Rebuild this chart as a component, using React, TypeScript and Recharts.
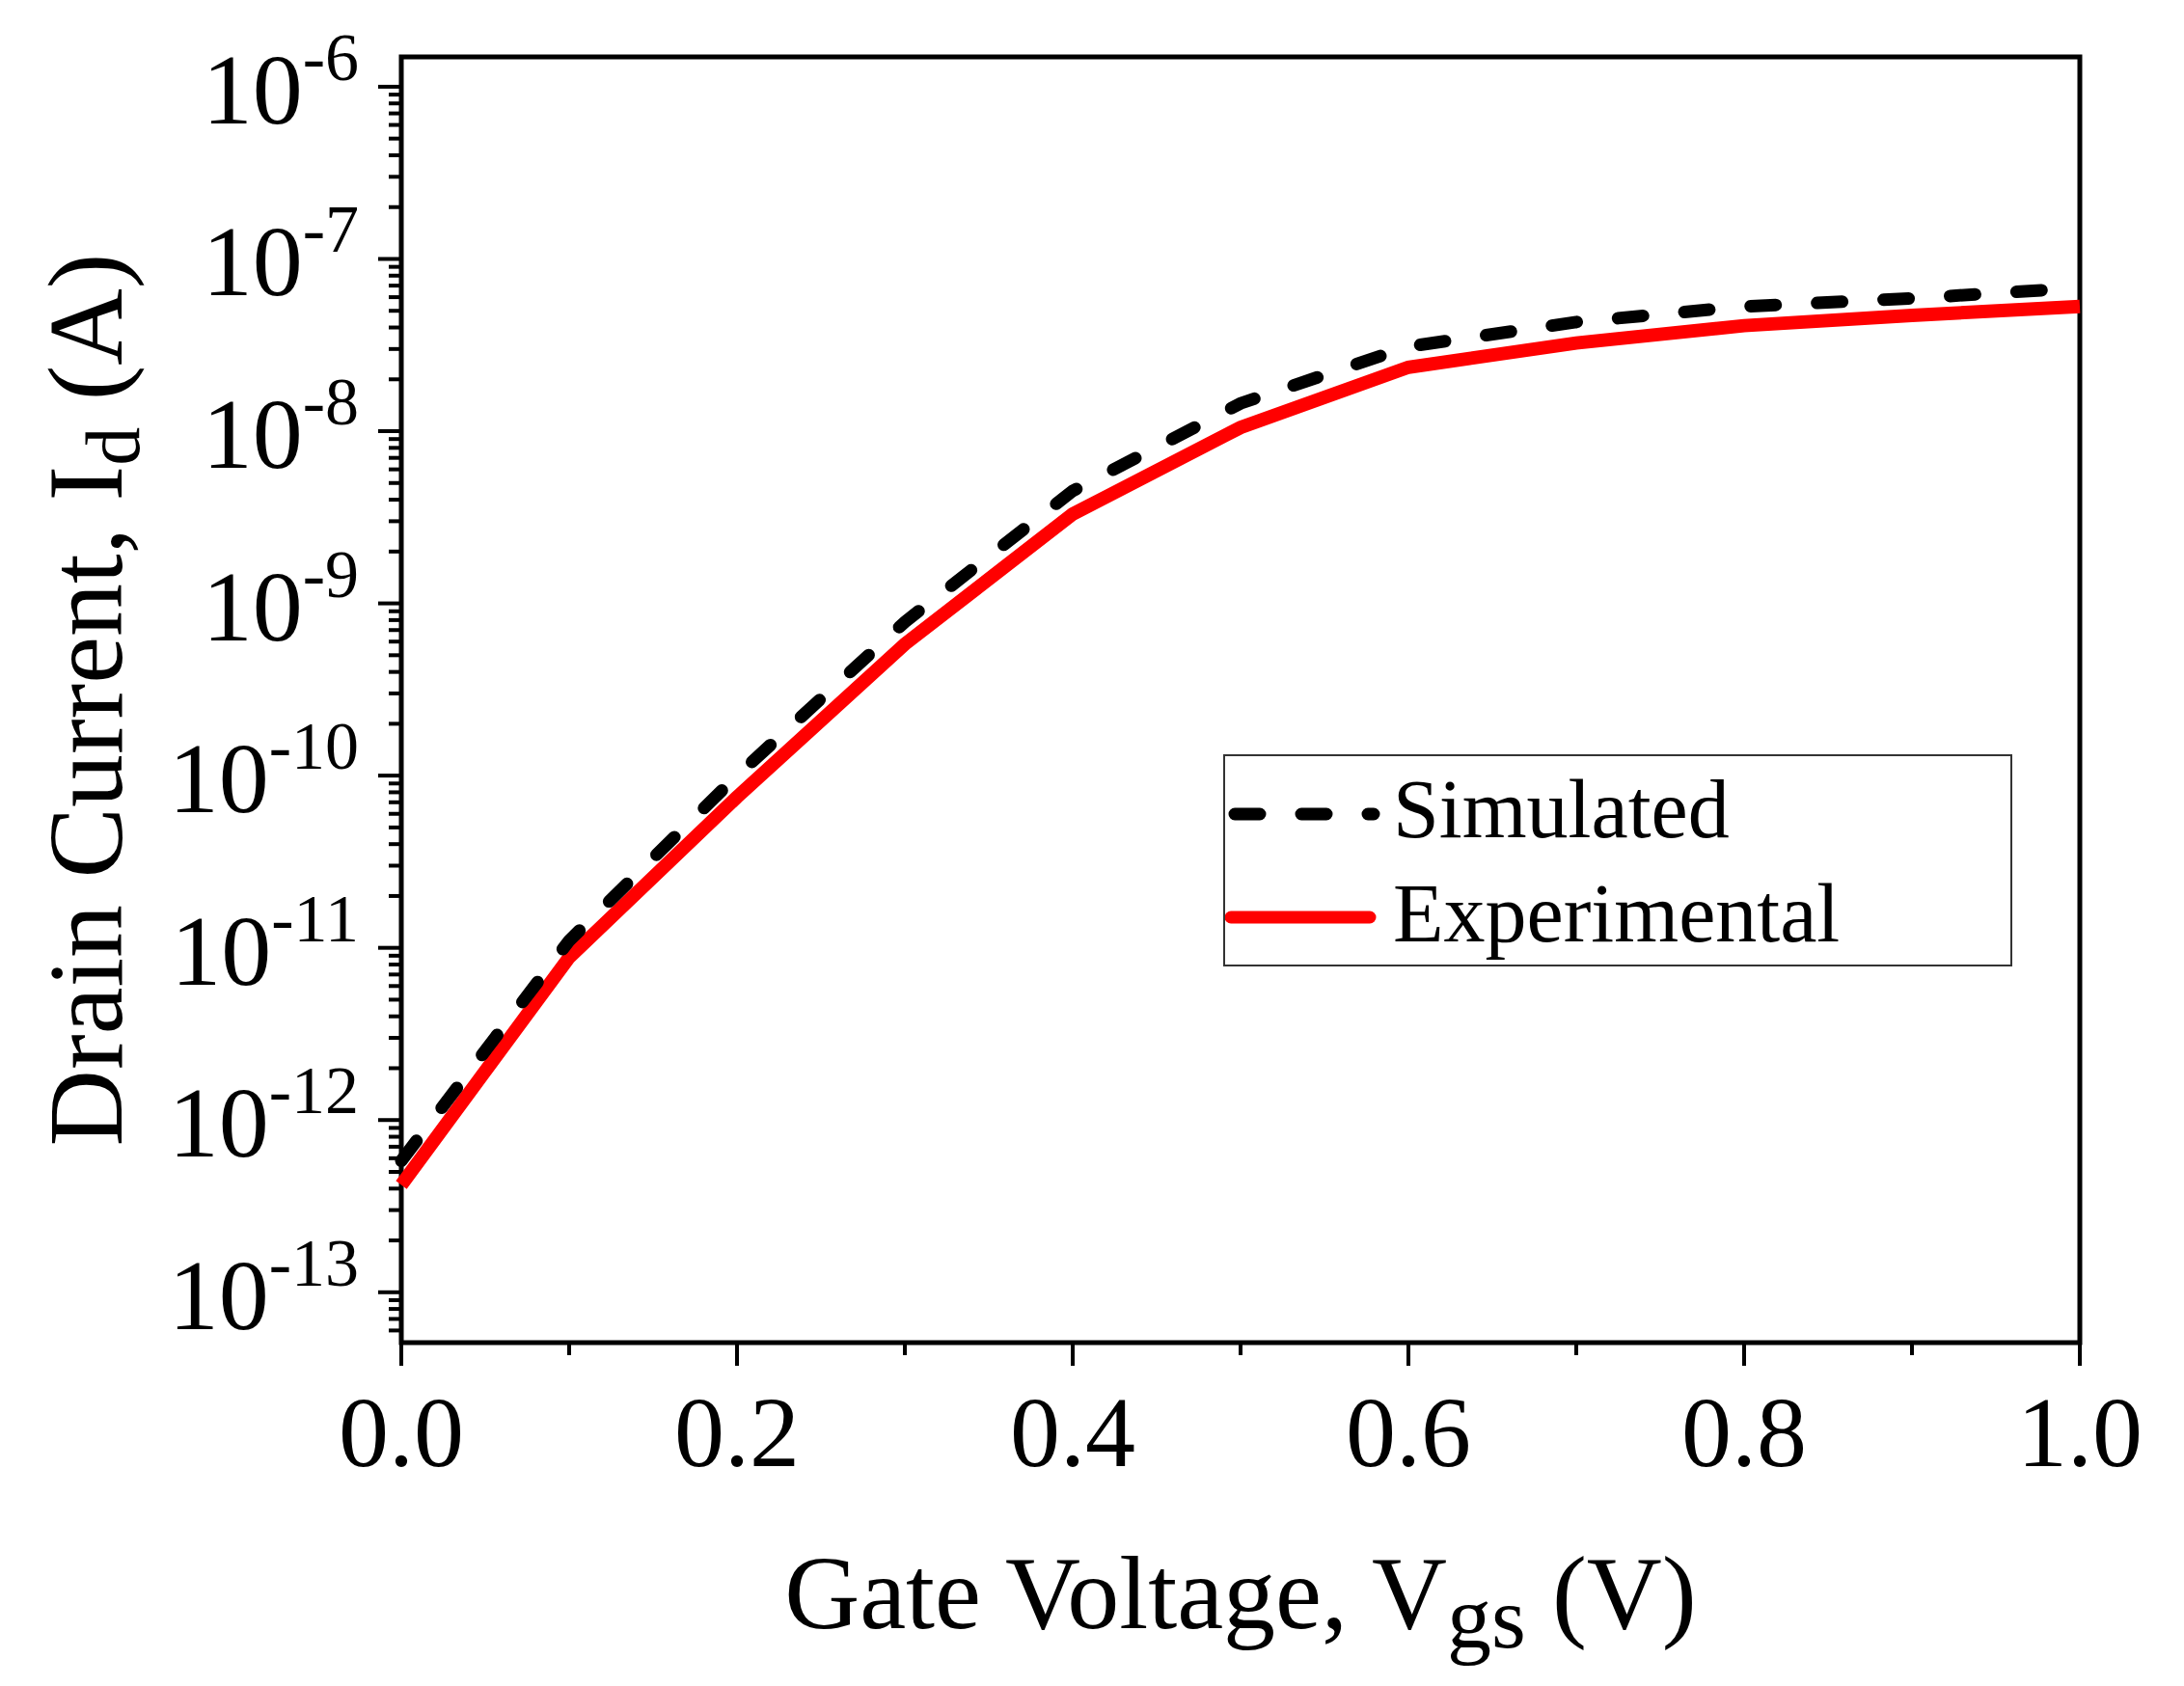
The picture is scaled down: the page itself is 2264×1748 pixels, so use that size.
import React from "react";
import {
  LineChart,
  Line,
  XAxis,
  YAxis,
  ReferenceArea,
  Legend,
  Label,
} from "recharts";

// Vgs sweep (V) and drain current (A)
const gateVoltage = [0, 0.1, 0.2, 0.3, 0.4, 0.5, 0.6, 0.7, 0.8, 0.9, 1.0];
const simulated = [
  5.8e-13, 1.1e-11, 1.0e-10, 7.8e-10, 4.5e-9, 1.45e-8, 3.1e-8, 4.3e-8, 5.3e-8,
  5.9e-8, 6.8e-8,
];
const experimental = [
  4.2e-13, 8.8e-12, 7.5e-11, 5.8e-10, 3.3e-9, 1.05e-8, 2.35e-8, 3.25e-8, 4.1e-8,
  4.7e-8, 5.3e-8,
];

const xTicks = [0, 0.1, 0.2, 0.3, 0.4, 0.5, 0.6, 0.7, 0.8, 0.9, 1.0];
const yDomain = [5.1e-14, 1.49e-6];
const yDecades = [-14, -13, -12, -11, -10, -9, -8, -7, -6];
const yMinorSteps = [1, 2, 3, 4, 5, 6, 7, 8, 9];

const yTicks: number[] = [];
yDecades.forEach((e) => {
  yMinorSteps.forEach((m) => {
    const v = m * Math.pow(10, e);
    if (v >= yDomain[0] && v <= yDomain[1]) yTicks.push(v);
  });
});

const data = gateVoltage.map((v, i) => ({
  v,
  sim: simulated[i],
  exp: experimental[i],
}));

const FONT = "'Liberation Serif', 'Times New Roman', serif";

const XTick = (props: any) => {
  const { x, y, payload } = props;
  const v = payload.value;
  const major = Math.round(v * 10) % 2 === 0;
  return (
    <g>
      <line
        x1={x}
        y1={y}
        x2={x}
        y2={y + (major ? 24 : 13)}
        stroke="#000"
        strokeWidth={4}
      />
      {major && (
        <text
          x={x}
          y={y + 128}
          textAnchor="middle"
          fontSize={104}
          fontFamily={FONT}
          fill="#000"
        >
          {v.toFixed(1)}
        </text>
      )}
    </g>
  );
};

const YTick = (props: any) => {
  const { x, y, payload } = props;
  const lg = Math.log10(payload.value);
  const exp = Math.round(lg);
  const major = Math.abs(lg - exp) < 1e-6;
  return (
    <g>
      <line
        x1={x}
        y1={y}
        x2={x - (major ? 24 : 13)}
        y2={y}
        stroke="#000"
        strokeWidth={4}
      />
      {major && (
        <text
          x={x - 44}
          y={y + 38}
          textAnchor="end"
          fontSize={104}
          fontFamily={FONT}
          fill="#000"
        >
          <tspan>10</tspan>
          <tspan dy={-45} fontSize={70}>{`-${-exp}`}</tspan>
        </text>
      )}
    </g>
  );
};

const XTitle = (props: any) => {
  const { x, y, width } = props.viewBox;
  return (
    <text
      x={x + width / 2}
      y={y + 296}
      textAnchor="middle"
      fontSize={108}
      fontFamily={FONT}
      fill="#000"
    >
      <tspan>Gate Voltage, V</tspan>
      <tspan dy={20} fontSize={92}>gs</tspan>
      <tspan dy={-20}> (V)</tspan>
    </text>
  );
};

const YTitle = (props: any) => {
  const { y, height } = props.viewBox;
  const tx = 126;
  const ty = y + height / 2;
  return (
    <text
      x={tx}
      y={ty}
      transform={`rotate(-90, ${tx}, ${ty})`}
      textAnchor="middle"
      fontSize={110}
      fontFamily={FONT}
      fill="#000"
    >
      <tspan>Drain Current, I</tspan>
      <tspan dy={18} fontSize={80}>d</tspan>
      <tspan dy={-18}> (A)</tspan>
    </text>
  );
};

const LegendBox = () => (
  <div
    style={{
      width: 818,
      height: 220,
      border: "2px solid #333",
      boxSizing: "border-box",
      background: "#fff",
    }}
  >
    <svg width={814} height={216} style={{ display: "block" }}>
      <line
        x1={10}
        y1={60}
        x2={154}
        y2={60}
        stroke="#000"
        strokeWidth={13}
        strokeDasharray="26 43"
        strokeLinecap="round"
      />
      <text x={174} y={84} fontSize={86} fontFamily={FONT} fill="#000">
        Simulated
      </text>
      <line
        x1={6}
        y1={167}
        x2={150}
        y2={167}
        stroke="#ff0000"
        strokeWidth={13}
        strokeLinecap="round"
      />
      <text x={174} y={192} fontSize={86} fontFamily={FONT} fill="#000">
        Experimental
      </text>
    </svg>
  </div>
);

export default function App() {
  return (
    <div style={{ position: "absolute", left: 0, top: 0, background: "#fff" }}>
      <LineChart
        width={2264}
        height={1748}
        data={data}
        margin={{ top: 59, right: 108, bottom: 56, left: 116 }}
      >
        <XAxis
          dataKey="v"
          type="number"
          domain={[0, 1]}
          ticks={xTicks}
          interval={0}
          axisLine={false}
          tickLine={false}
          tickSize={0}
          tickMargin={0}
          tick={<XTick />}
          height={300}
        >
          <Label content={<XTitle />} />
        </XAxis>
        <YAxis
          type="number"
          scale="log"
          domain={yDomain}
          allowDataOverflow
          ticks={yTicks}
          interval={0}
          axisLine={false}
          tickLine={false}
          tickSize={0}
          tickMargin={0}
          tick={<YTick />}
          width={300}
        >
          <Label content={<YTitle />} />
        </YAxis>
        <ReferenceArea
          x1={0}
          x2={1}
          y1={yDomain[0]}
          y2={yDomain[1]}
          fill="none"
          stroke="#000"
          strokeWidth={5}
          ifOverflow="visible"
        />
        <Line
          type="linear"
          dataKey="exp"
          stroke="#ff0000"
          strokeWidth={14}
          dot={false}
          activeDot={false}
          isAnimationActive={false}
        />
        <Line
          type="linear"
          dataKey="sim"
          stroke="#000"
          strokeWidth={13}
          strokeDasharray="26 43"
          strokeLinecap="round"
          dot={false}
          activeDot={false}
          isAnimationActive={false}
        />
        <Legend
          layout="horizontal"
          verticalAlign="middle"
          align="center"
          content={<LegendBox />}
          wrapperStyle={{ left: 1268, top: 782, width: 818, height: 220 }}
        />
      </LineChart>
    </div>
  );
}
